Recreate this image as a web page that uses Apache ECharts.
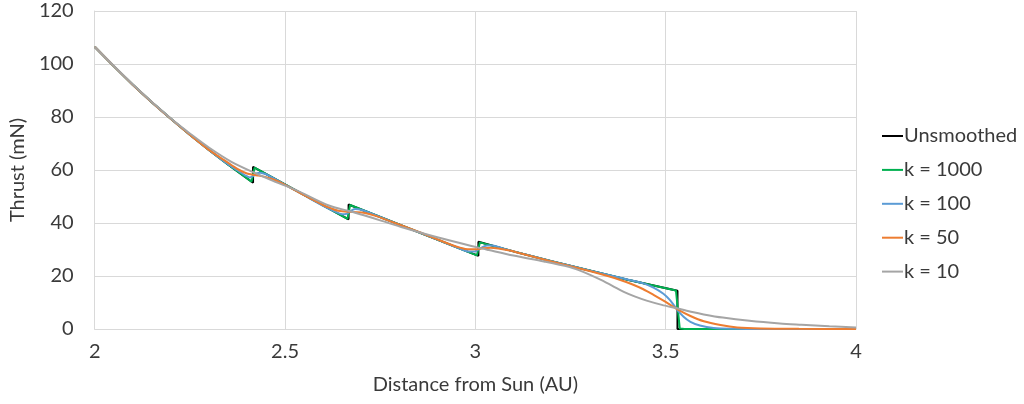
<!DOCTYPE html>
<html><head><meta charset="utf-8">
<script src="https://cdn.jsdelivr.net/npm/echarts@6/dist/echarts.min.js"></script>
<style>html,body{margin:0;padding:0;background:#fff}#c{width:1024px;height:404px}</style>
</head><body><div id="c"></div>
<script>
const seriesNames = ['Unsmoothed', 'k = 1000', 'k = 100', 'k = 50', 'k = 10'];
const xTicks = [2, 2.5, 3, 3.5, 4];
const yTicks = [0, 20, 40, 60, 80, 100, 120];

const unsmoothed = [[2.0,106.5],[2.05,99.2],[2.1,92.2],[2.15,85.6],[2.2,79.3],[2.25,73.3],[2.3,67.6],[2.35,62.1],[2.416,55.2],[2.416,61.2],[2.667,41.4],[2.667,47.0],[3.008,27.6],[3.008,32.9],[3.1,29.3],[3.2,25.6],[3.3,22.1],[3.4,18.6],[3.531,14.4],[3.531,0],[4.0,0]];
const k1000 = [[2.0,106.5],[2.05,99.2],[2.1,92.2],[2.15,85.6],[2.2,79.3],[2.25,73.3],[2.3,67.6],[2.35,62.1],[2.412,55.6],[2.420,60.9],[2.664,41.6],[2.671,46.8],[3.004,27.8],[3.012,32.7],[3.1,29.3],[3.2,25.6],[3.3,22.1],[3.4,18.6],[3.527,14.5],[3.537,0.2],[3.55,0],[4.0,0]];
const k100 = [[2.0,106.5],[2.05,99.2],[2.1,92.2],[2.15,85.6],[2.2,79.3],[2.25,73.3],[2.3,67.6],[2.35,62.2],[2.38,59.4],[2.395,58.0],[2.408,57.2],[2.416,57.7],[2.425,58.7],[2.435,59.0],[2.45,58.4],[2.47,56.9],[2.5,54.5],[2.55,50.5],[2.6,46.5],[2.63,44.4],[2.65,43.3],[2.66,43.4],[2.667,44.0],[2.675,44.8],[2.685,45.3],[2.70,45.0],[2.72,44.0],[2.8,39.4],[2.9,33.7],[2.96,30.3],[2.985,29.2],[2.998,29.2],[3.008,30.0],[3.02,31.0],[3.032,31.5],[3.045,31.5],[3.07,30.5],[3.1,29.3],[3.2,25.6],[3.3,22.1],[3.4,18.7],[3.44,17.3],[3.468,15.6],[3.494,13.3],[3.512,10.8],[3.53,7.3],[3.547,4.6],[3.565,2.7],[3.59,1.3],[3.626,0.4],[3.68,0.1],[3.75,0],[4.0,0]];
const k50 = [[2.0,106.5],[2.05,99.2],[2.1,92.2],[2.15,85.6],[2.2,79.3],[2.25,73.3],[2.3,67.6],[2.34,63.7],[2.36,61.8],[2.38,60.0],[2.40,58.7],[2.416,58.2],[2.43,57.9],[2.45,57.3],[2.47,56.4],[2.5,54.4],[2.55,50.5],[2.6,46.8],[2.62,45.6],[2.64,44.6],[2.667,44.2],[2.69,44.1],[2.71,43.8],[2.74,42.6],[2.77,41.0],[2.85,36.7],[2.94,31.6],[2.96,30.7],[2.98,30.1],[3.0,30.1],[3.02,30.5],[3.04,30.7],[3.06,30.4],[3.09,29.6],[3.12,28.5],[3.2,25.5],[3.3,21.9],[3.35,19.9],[3.381,18.5],[3.41,17.0],[3.44,15.1],[3.468,12.9],[3.5,10.2],[3.53,7.5],[3.565,4.9],[3.6,2.9],[3.644,1.5],[3.688,0.6],[3.75,0.2],[3.85,0.05],[4.0,0]];
const k10 = [[2.0,106.5],[2.1,92.3],[2.2,79.4],[2.25,73.8],[2.3,68.5],[2.358,63.2],[2.419,59.0],[2.47,55.8],[2.528,52.5],[2.615,46.6],[2.668,44.5],[2.707,42.9],[2.75,41.0],[2.812,38.2],[2.9,34.6],[3.005,30.8],[3.035,29.8],[3.1,27.7],[3.18,25.5],[3.245,23.5],[3.27,22.3],[3.3,20.5],[3.33,18.5],[3.36,16.3],[3.39,14.0],[3.42,12.2],[3.45,10.7],[3.49,9.1],[3.53,7.8],[3.57,6.4],[3.6,5.5],[3.65,4.3],[3.72,3.1],[3.8,2.1],[3.857,1.6],[3.93,1.0],[4.0,0.6]];

const seriesData = [unsmoothed, k1000, k100, k50, k10];
const colors = ['#000000', '#00B050', '#5B9BD5', '#ED7D31', '#A5A5A5'];
const smoothing = [false, false, 0.3, 0.3, 0.3];

const FONT = 'Lato, "Open Sans", sans-serif';
const TXT = '#3a3a3a';
const chart = echarts.init(document.getElementById('c'), null, {renderer: 'canvas'});
chart.setOption({
  animation: false,
  backgroundColor: '#ffffff',
  grid: {left: 93, right: 168, top: 11, bottom: 75, containLabel: false},
  legend: {
    orient: 'vertical', left: 877, top: 121,
    icon: 'rect', itemWidth: 21, itemHeight: 2, itemGap: 13.9,
    textStyle: {fontFamily: FONT, fontSize: 20, color: TXT, padding: [0,0,0,-4], lineHeight: 20},
    data: seriesNames
  },
  xAxis: {
    type: 'value', min: xTicks[0], max: xTicks[xTicks.length-1], interval: 0.5,
    name: 'Distance from Sun (AU)', nameLocation: 'middle', nameGap: 46,
    nameTextStyle: {fontFamily: FONT, fontSize: 20, color: TXT},
    axisLine: {show: true, lineStyle: {color: '#d9d9d9', width: 1}},
    axisTick: {show: false},
    axisLabel: {fontFamily: FONT, fontSize: 20, color: TXT, margin: 13,
      formatter: v => String(v)},
    splitLine: {show: true, lineStyle: {color: '#d9d9d9', width: 1}}
  },
  yAxis: {
    type: 'value', min: yTicks[0], max: yTicks[yTicks.length-1], interval: 20,
    name: 'Thrust (mN)', nameLocation: 'middle', nameGap: 61,
    nameTextStyle: {fontFamily: FONT, fontSize: 20, color: TXT},
    axisLine: {show: true, lineStyle: {color: '#d9d9d9', width: 1}},
    axisTick: {show: false},
    axisLabel: {fontFamily: FONT, fontSize: 20, color: TXT, margin: 21},
    splitLine: {show: true, lineStyle: {color: '#d9d9d9', width: 1}}
  },
  series: seriesNames.map((n, i) => ({
    name: n, type: 'line', data: seriesData[i], showSymbol: false, symbol: 'none',
    smooth: smoothing[i], color: colors[i],
    lineStyle: {color: colors[i], width: 2}, z: 2 + i
  }))
});
</script></body></html>
